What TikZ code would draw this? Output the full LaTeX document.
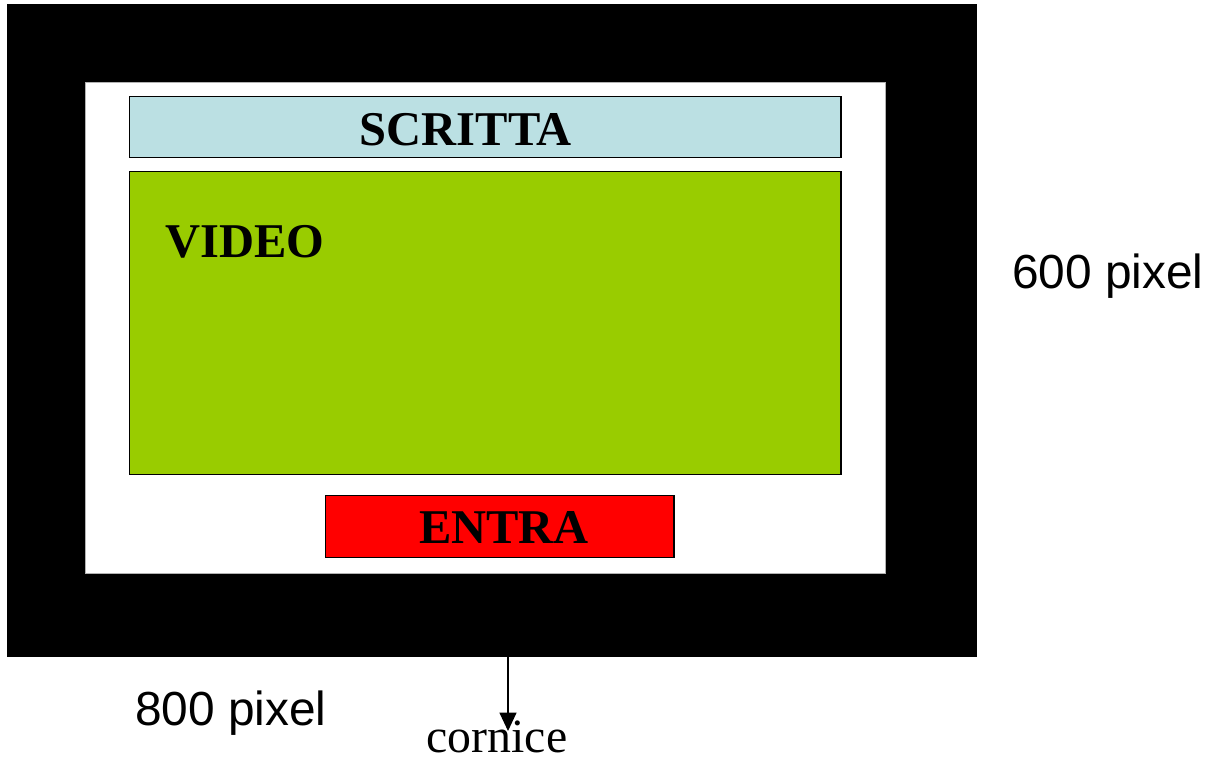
\documentclass[tikz,border=0pt]{standalone}
\usepackage{fontspec}
\setmainfont{Liberation Serif}
\newfontfamily\arialfont{Liberation Sans}
\usepackage{xcolor}
\usetikzlibrary{arrows.meta,positioning}

\definecolor{scrittablue}{HTML}{BBE0E3}
\definecolor{videogreen}{HTML}{99CC00}
\definecolor{entrared}{HTML}{FF0000}

\begin{document}
\begin{tikzpicture}[x=0.025cm,y=-0.025cm,>={Triangle[length=13pt,width=12pt]},
    area/.style={draw=black,line width=1pt,inner sep=0pt,anchor=north west},
    bigtxt/.style={font=\fontsize{34.5}{40}\selectfont\bfseries,anchor=base,inner sep=0pt},
    dimtxt/.style={font=\fontsize{34}{40}\selectfont\arialfont,anchor=base west,inner sep=0pt}]

\useasboundingbox (0,0) rectangle (1206,759);

\fill[black] (7,4) rectangle (977,657);
\node[area,fill=white,draw=gray!60,line width=0.6pt,minimum width=20cm,minimum height=12.275cm] (screen) at (85,82) {};

\node[area,fill=scrittablue,minimum width=17.775cm,minimum height=1.525cm] (scritta) at (129,96) {};
\node[area,fill=videogreen,minimum width=17.775cm,minimum height=7.575cm]  (video)   at (129,171) {};
\node[area,fill=entrared,minimum width=8.7cm,minimum height=1.55cm]       (entra)   at (325,495) {};

\node[bigtxt] (scrittatxt) at (466,145) {SCRITTA};
\node[bigtxt,anchor=base west] (videotxt) at (165,257) {VIDEO};
\node[bigtxt] (entratxt) at (504,543) {ENTRA};

\node[dimtxt] (height) at (1012,288) {600 pixel};
\node[dimtxt] (width)  at (135,725) {800 pixel};

\node[font=\fontsize{34}{40}\selectfont,anchor=base,inner sep=0pt] (cornice) at (497,752) {cornice};
\coordinate (framebottom) at (508,657);
\coordinate (arrowend) at (508,731);
\draw[->,line width=1pt] (framebottom) -- (arrowend);

\end{tikzpicture}
\end{document}
